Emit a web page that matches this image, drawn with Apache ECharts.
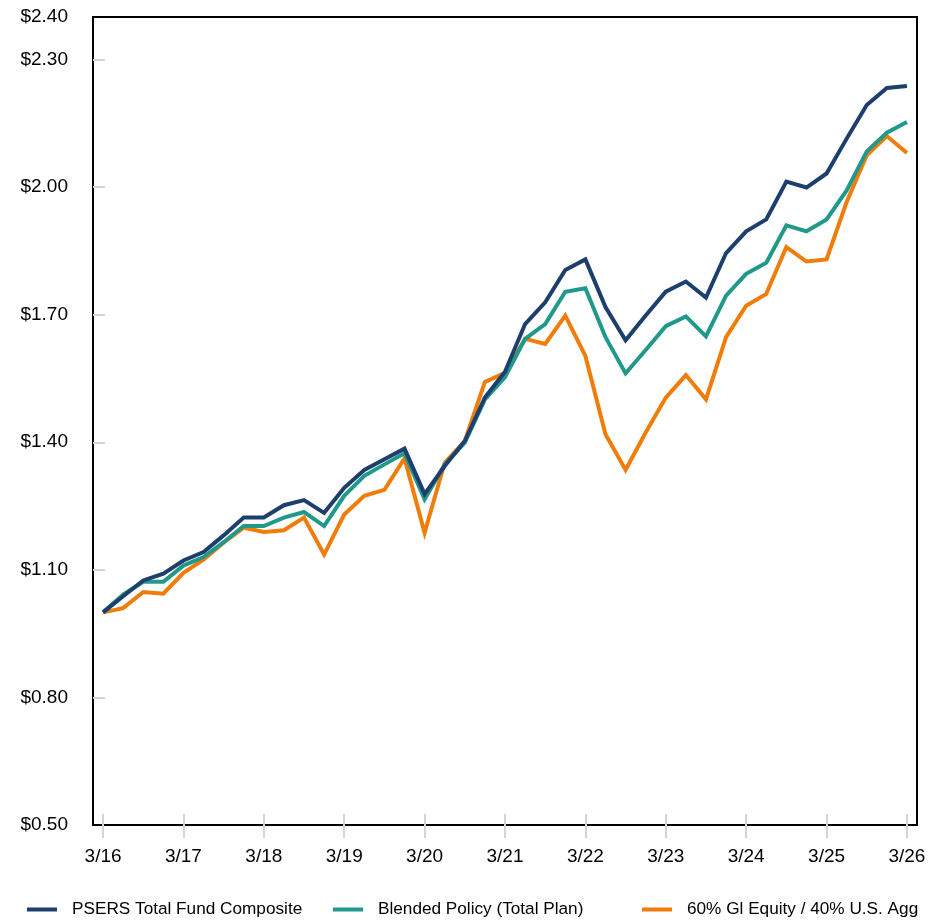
<!DOCTYPE html>
<html>
<head>
<meta charset="utf-8">
<script src="https://cdn.jsdelivr.net/npm/echarts@6/dist/echarts.min.js"></script>
<style>
  html, body { margin: 0; padding: 0; background: #fff; }
  #chart { width: 942px; height: 921px; }
</style>
</head>
<body>
<div id="chart"></div>
<script>
// quarter ends, 3/16 .. 3/26
const quarters = []
for (let y = 16; y <= 26; y++) {
    ['3', '6', '9', '12'].forEach(m => {
        if (y === 26 && m !== '3') return
        quarters.push(m + '/' + y)
    })
}

const psers_data = [
    1.00, 1.038, 1.075, 1.091, 1.122, 1.142, 1.181, 1.223, 1.223, 1.252,
    1.264, 1.234, 1.293, 1.335, 1.360, 1.385, 1.278, 1.344, 1.403, 1.505,
    1.566, 1.678, 1.729, 1.805, 1.830, 1.718, 1.640, 1.698, 1.754, 1.778,
    1.740, 1.845, 1.896, 1.924, 2.013, 1.999, 2.032, 2.114, 2.193, 2.233,
    2.238
]
const blended_data = [
    1.00, 1.042, 1.072, 1.072, 1.110, 1.130, 1.165, 1.203, 1.203, 1.223,
    1.236, 1.203, 1.274, 1.321, 1.348, 1.374, 1.266, 1.348, 1.399, 1.501,
    1.553, 1.643, 1.678, 1.754, 1.762, 1.647, 1.562, 1.617, 1.673, 1.696,
    1.649, 1.745, 1.796, 1.822, 1.910, 1.896, 1.924, 1.992, 2.084, 2.128,
    2.153
]
const sixty_forty_data = [
    1.00, 1.010, 1.048, 1.044, 1.093, 1.124, 1.164, 1.199, 1.189, 1.193,
    1.223, 1.136, 1.230, 1.274, 1.288, 1.362, 1.187, 1.352, 1.403, 1.542,
    1.563, 1.643, 1.631, 1.698, 1.603, 1.419, 1.335, 1.423, 1.505, 1.558,
    1.501, 1.647, 1.721, 1.749, 1.859, 1.825, 1.830, 1.965, 2.075, 2.120,
    2.080
]

const y_tick_values = [0.8, 1.1, 1.4, 1.7, 2.0, 2.3]

const series_names = [
    'PSERS Total Fund Composite',
    'Blended Policy (Total Plan)',
    '60% Gl Equity / 40% U.S. Agg'
]
const series_colors = ['#1d3f6e', '#21998a', '#f07d0a']

const font = '"Liberation Sans", Arial, sans-serif'
const tick_gray = '#d4d4d4'

const chart = echarts.init(document.getElementById('chart'), null, {renderer: 'canvas'})

const legendItem = (i, left) => ({
    data: [series_names[i]],
    left: left,
    top: 896,
    itemWidth: 30,
    itemHeight: 4,
    icon: 'rect',
    textStyle: {
        fontFamily: font,
        fontSize: 17.2,
        color: '#000',
        padding: [0, 0, 0, 10]
    }
})

const lineSeries = (i, data) => ({
    name: series_names[i],
    type: 'line',
    data: data,
    showSymbol: false,
    symbol: 'none',
    lineStyle: {width: 4, color: series_colors[i], join: 'miter'},
    itemStyle: {color: series_colors[i]},
    animation: false
})

const option = {
    animation: false,
    grid: {
        left: 93, right: 25, top: 17, bottom: 96,
        show: true, borderColor: '#000', borderWidth: 2, containLabel: false
    },
    legend: [legendItem(0, 22), legendItem(1, 328), legendItem(2, 637)],
    xAxis: [
        {
            type: 'category',
            data: quarters,
            boundaryGap: true,
            position: 'bottom',
            axisLine: {show: true, lineStyle: {color: '#000', width: 2}},
            axisTick: {show: true, interval: 3, alignWithLabel: true, length: 13,
                lineStyle: {color: tick_gray, width: 2}},
            axisLabel: {interval: 3, margin: 22, fontFamily: font, fontSize: 19, color: '#000'},
            splitLine: {show: false}
        },
        {
            type: 'category',
            data: quarters,
            boundaryGap: true,
            position: 'bottom',
            axisLine: {show: false},
            axisTick: {show: true, inside: true, interval: 3, alignWithLabel: true, length: 11,
                lineStyle: {color: tick_gray, width: 2}},
            axisLabel: {show: false},
            splitLine: {show: false}
        }
    ],
    yAxis: {
        type: 'value',
        min: 0.5,
        max: 2.4,
        interval: 0.3,
        axisLine: {show: true, lineStyle: {color: '#000', width: 2}},
        axisTick: {show: true, inside: true, length: 12, customValues: y_tick_values,
            lineStyle: {color: tick_gray, width: 2}},
        axisLabel: {
            margin: 25,
            fontFamily: font,
            fontSize: 19,
            color: '#000',
            formatter: v => '$' + v.toFixed(2)
        },
        splitLine: {show: false}
    },
    series: [
        lineSeries(2, sixty_forty_data),
        lineSeries(1, blended_data),
        lineSeries(0, psers_data)
    ]
}

chart.setOption(option)
</script>
</body>
</html>
